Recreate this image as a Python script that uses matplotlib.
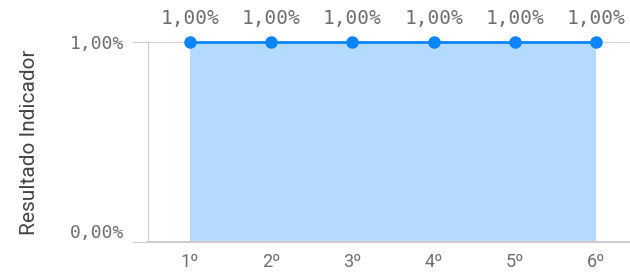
import matplotlib
matplotlib.use("Agg")
import matplotlib.pyplot as plt
from matplotlib.ticker import FuncFormatter

categorias = ["1º", "2º", "3º", "4º", "5º", "6º"]
valores = [1.0, 1.0, 1.0, 1.0, 1.0, 1.0]
rotulos = ["1,00%", "1,00%", "1,00%", "1,00%", "1,00%", "1,00%"]
yticks = [0.0, 1.0]

AZUL = "#0a84ff"
AREA = "#b4daff"
CINZA = "#6e6e6e"
GRADE = "#cccccc"

fig = plt.figure(figsize=(6.3, 2.77), dpi=100)
ax = fig.add_axes([148 / 630, 1 - 242 / 277, 1 - 148 / 630, 200 / 277])

x = list(range(len(categorias)))
ax.fill_between(x, 0, valores, color=AREA, linewidth=0, zorder=1)
ax.plot(x, valores, color=AZUL, linewidth=2, marker="o", markersize=8,
        clip_on=False, zorder=3)

for xi, v, r in zip(x, valores, rotulos):
    ax.annotate(r, (xi, v), xytext=(0, 13), textcoords="offset points",
                ha="center", va="baseline", fontsize=14, color=CINZA,
                family="DejaVu Sans Mono")

ax.set_xlim(-0.517, 5.42)
ax.set_ylim(0, 1)
ax.set_xticks(x)
ax.set_xticklabels(categorias, fontsize=13, color=CINZA, family="Roboto")
ax.set_yticks(yticks)
ax.yaxis.set_major_formatter(FuncFormatter(lambda v, p: f"{v:.2f}%".replace(".", ",")))
ax.tick_params(axis="y", length=11, color=GRADE, labelsize=13, labelcolor=CINZA, pad=6)
ax.tick_params(axis="x", length=0, pad=8)
fig.canvas.draw()
for lab in ax.get_yticklabels():
    lab.set_family("DejaVu Sans Mono")
ax.get_yticklabels()[0].set_verticalalignment("bottom")

ax.grid(axis="y", color=GRADE, linewidth=1.2, zorder=0)
ax.set_axisbelow(True)
for s in ["top", "right"]:
    ax.spines[s].set_visible(False)
ax.spines["left"].set_color(GRADE)
ax.spines["bottom"].set_color(GRADE)
ax.spines["bottom"].set_linewidth(1.5)

ax.set_ylabel("Resultado Indicador", fontsize=15, color="#444444", family="Roboto",
              labelpad=22)

fig.savefig("out.png", dpi=100)
